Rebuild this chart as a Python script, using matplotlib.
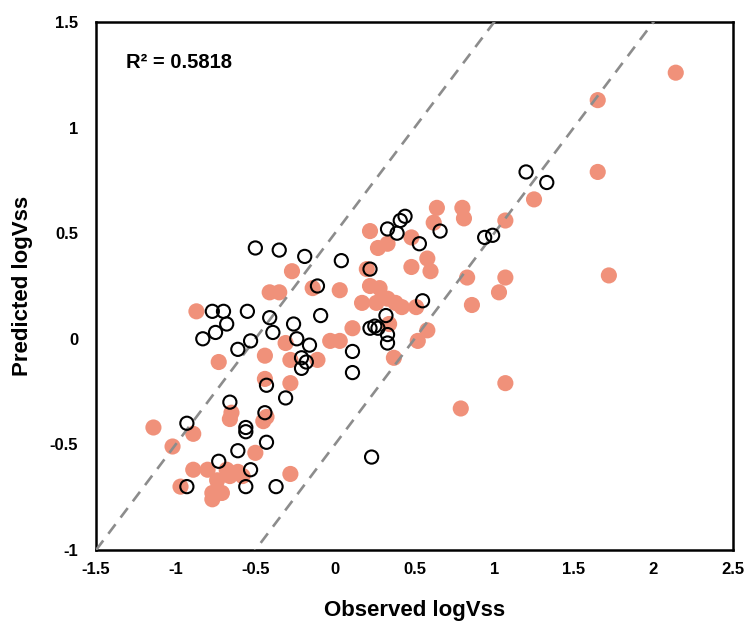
import matplotlib
matplotlib.use("Agg")
import matplotlib.pyplot as plt
import numpy as np

plt.rcParams['font.family'] = ['Liberation Sans', 'DejaVu Sans']
plt.rcParams['font.weight'] = 'bold'

# Training set (filled markers): observed vs predicted logVss
train_obs = [2.14, 1.65, 1.65, 1.25, 1.07, 0.80, 0.81, 0.83, 1.07, 1.03,
             0.86, 1.72, 1.07, 0.79, 0.64, 0.62, 0.22, 0.27, 0.33, 0.48,
             0.58, 0.48, 0.60, -0.27, -0.41, -0.35, -0.14, 0.03, 0.20, 0.22,
             0.28, 0.17, 0.26, 0.33, 0.38, 0.42, 0.51, 0.11, -0.03, 0.03,
             0.34, 0.58, 0.52, 0.37, -0.31, -0.44, -0.28, -0.11, -0.44, -0.28,
             -0.87, -0.73, -1.14, -1.02, -0.89, -0.66, -0.65, -0.45, -0.43, -0.50,
             -0.89, -0.80, -0.74, -0.68, -0.61, -0.66, -0.58, -0.97, -0.77, -0.71,
             -0.77, -0.28]
train_pred = [1.26, 1.13, 0.79, 0.66, 0.56, 0.62, 0.57, 0.29, 0.29, 0.22,
              0.16, 0.30, -0.21, -0.33, 0.62, 0.55, 0.51, 0.43, 0.45, 0.48,
              0.38, 0.34, 0.32, 0.32, 0.22, 0.22, 0.24, 0.23, 0.33, 0.25,
              0.24, 0.17, 0.17, 0.19, 0.17, 0.15, 0.15, 0.05, -0.01, -0.01,
              0.07, 0.04, -0.01, -0.09, -0.02, -0.08, -0.10, -0.10, -0.19, -0.21,
              0.13, -0.11, -0.42, -0.51, -0.45, -0.38, -0.35, -0.39, -0.37, -0.54,
              -0.62, -0.62, -0.67, -0.62, -0.63, -0.65, -0.65, -0.70, -0.73, -0.73,
              -0.76, -0.64]

# Test set (open markers)
test_obs = [1.20, 1.33, 0.94, 0.99, 0.66, -0.50, -0.35, -0.19, 0.04, -0.11,
            0.22, 0.33, 0.39, 0.41, 0.44, 0.53, 0.55, -0.55, -0.41, -0.39,
            -0.26, -0.09, -0.53, -0.61, -0.24, -0.16, -0.21, -0.18, -0.21, 0.11,
            0.11, 0.32, 0.22, 0.25, 0.27, 0.33, 0.33, -0.77, -0.70, -0.68,
            -0.75, -0.83, -0.43, -0.31, -0.66, -0.44, -0.93, -0.56, -0.56, -0.43,
            -0.61, -0.73, -0.53, -0.93, -0.56, -0.37, 0.23]
test_pred = [0.79, 0.74, 0.48, 0.49, 0.51, 0.43, 0.42, 0.39, 0.37, 0.25,
             0.33, 0.52, 0.50, 0.56, 0.58, 0.45, 0.18, 0.13, 0.10, 0.03,
             0.07, 0.11, -0.01, -0.05, 0.00, -0.03, -0.09, -0.11, -0.14, -0.06,
             -0.16, 0.11, 0.05, 0.06, 0.05, 0.02, -0.02, 0.13, 0.13, 0.07,
             0.03, 0.00, -0.22, -0.28, -0.30, -0.35, -0.40, -0.42, -0.44, -0.49,
             -0.53, -0.58, -0.62, -0.70, -0.70, -0.70, -0.56]

r2_text = "R² = 0.5818"
x_ticks = [-1.5, -1, -0.5, 0, 0.5, 1, 1.5, 2, 2.5]
y_ticks = [-1, -0.5, 0, 0.5, 1, 1.5]

fig = plt.figure(figsize=(7.45, 6.23), dpi=100)
ax = fig.add_axes([0.129, 0.1172, 0.855, 0.8475])

ax.scatter(train_obs, train_pred, s=135, color='#F0917A', edgecolors='none', zorder=2)

# +/- 0.5 log unit bands
xl = np.array([-1.5, 2.5])
for off in (0.5, -0.5):
    ax.plot(xl, xl + off, color='#8c8c8c', lw=1.9, ls=(0, (4.5, 3.2)), zorder=3)

ax.scatter(test_obs, test_pred, s=90, facecolors='none', edgecolors='black',
           linewidths=1.5, zorder=4)

ax.set_xlim(-1.5, 2.5)
ax.set_ylim(-1, 1.5)
ax.set_xticks(x_ticks)
ax.set_xticklabels([f"{v:g}" for v in x_ticks])
ax.set_yticks(y_ticks)
ax.set_yticklabels([f"{v:g}" for v in y_ticks])
ax.tick_params(axis='both', length=0, labelsize=12)
ax.tick_params(axis='x', pad=9)
ax.tick_params(axis='y', pad=13)
for sp in ax.spines.values():
    sp.set_linewidth(1.8)
    sp.set_color('black')

ax.set_xlabel("Observed logVss", fontsize=16, fontweight='bold', labelpad=16)
ax.set_ylabel("Predicted logVss", fontsize=16, fontweight='bold', labelpad=12)

ax.text(-1.31, 1.31, r2_text, fontsize=14.5, fontweight='bold', va='center', ha='left')

fig.savefig("out.png", dpi=100)
